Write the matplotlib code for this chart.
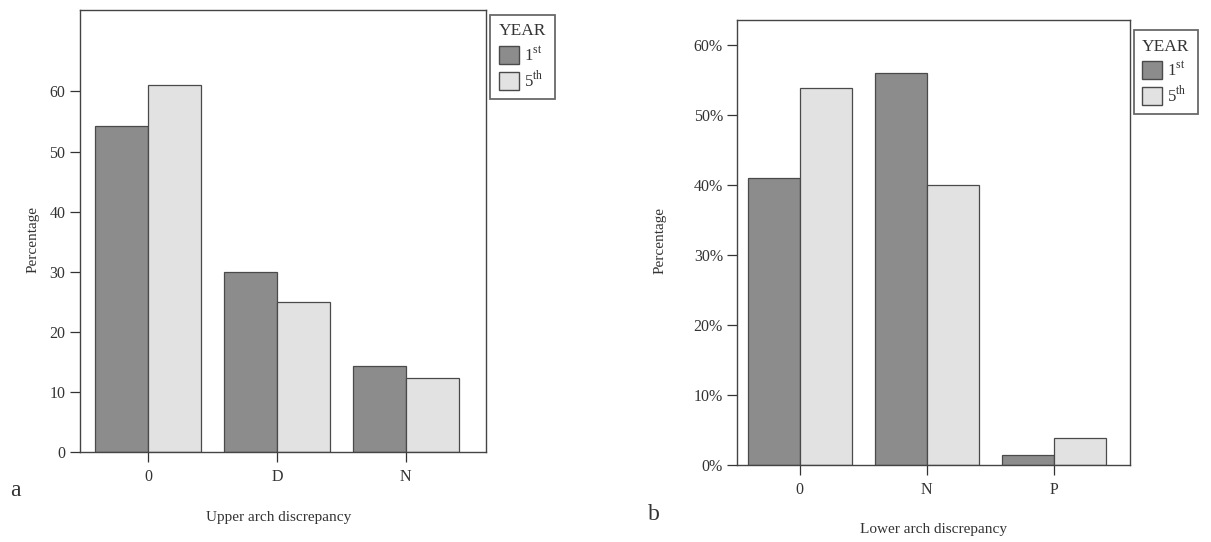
import matplotlib
matplotlib.use("Agg")
import matplotlib.pyplot as plt
import numpy as np
from matplotlib.patches import Patch
from matplotlib.ticker import FuncFormatter

plt.rcParams['font.family'] = ['Liberation Serif', 'DejaVu Serif']
plt.rcParams['mathtext.fontset'] = 'custom'
plt.rcParams['mathtext.rm'] = 'Liberation Serif'

# Data
cats_a = ['0', 'D', 'N']
first_a = [54.2, 29.9, 14.3]
fifth_a = [61.0, 24.9, 12.3]

cats_b = ['0', 'N', 'P']
first_b = [41.0, 56.1, 1.4]
fifth_b = [53.9, 40.0, 3.9]

years = [r'1$^{\mathrm{st}}$', r'5$^{\mathrm{th}}$']

dark = '#8c8c8c'
light = '#e2e2e2'
edge = '#4a4a4a'

fig = plt.figure(figsize=(12.11, 5.42), dpi=100)

def draw(ax, cats, s1, s2, ylim, yticks, fmt, xlim, xlabel, letter, letter_xy,
         xl_coords, yl_coords, leg_anchor):
    x = np.arange(len(cats))
    w = 0.41
    ax.bar(x - w/2, s1, width=w, color=dark, edgecolor=edge, linewidth=0.9)
    ax.bar(x + w/2, s2, width=w, color=light, edgecolor=edge, linewidth=0.9)
    ax.set_xlim(*xlim)
    ax.set_ylim(*ylim)
    ax.set_yticks(yticks)
    ax.yaxis.set_major_formatter(FuncFormatter(fmt))
    ax.set_xticks(x)
    ax.set_xticklabels(cats)
    ax.tick_params(axis='both', labelsize=11.5, length=7, width=0.9, colors='#333333')
    ax.tick_params(axis='x', pad=5)
    for sp in ax.spines.values():
        sp.set_color('#444444')
        sp.set_linewidth(1.0)
    ax.set_ylabel('Percentage', fontsize=11, color='#333333')
    ax.yaxis.set_label_coords(*yl_coords)
    ax.set_xlabel(xlabel, fontsize=11, color='#333333')
    ax.xaxis.set_label_coords(*xl_coords)
    handles = [Patch(facecolor=dark, edgecolor=edge), Patch(facecolor=light, edgecolor=edge)]
    leg = ax.legend(handles, years, title='YEAR', loc='upper left', bbox_to_anchor=leg_anchor,
                    borderaxespad=0,
                    fontsize=12, title_fontsize=12.5, frameon=True, fancybox=False,
                    edgecolor='#444444', handlelength=1.2, handleheight=1.3,
                    handletextpad=0.3, borderpad=0.5, labelspacing=0.35, alignment='left')
    leg.get_frame().set_linewidth(1.3)
    leg.get_title().set_color('#333333')
    for t in leg.get_texts():
        t.set_color('#333333')
    fig.text(letter_xy[0], letter_xy[1], letter, fontsize=17, color='#333333')

ax1 = fig.add_axes([0.066, 0.166, 0.335, 0.815])
draw(ax1, cats_a, first_a, fifth_a, (0, 73.5), [0, 10, 20, 30, 40, 50, 60],
     lambda v, p: f'{int(v)}', (-0.53, 2.62), 'Upper arch discrepancy', 'a', (0.008, 0.085),
     (0.49, -0.133), (-0.10, 0.48), (1.012, 0.989))

ax2 = fig.add_axes([0.609, 0.142, 0.324, 0.821])
draw(ax2, cats_b, first_b, fifth_b, (0, 63.6), [0, 10, 20, 30, 40, 50, 60],
     lambda v, p: f'{int(v)}%', (-0.49, 2.6), 'Lower arch discrepancy', 'b', (0.535, 0.04),
     (0.50, -0.13), (-0.181, 0.505), (1.01, 0.977))

fig.savefig('out.png', dpi=100)
